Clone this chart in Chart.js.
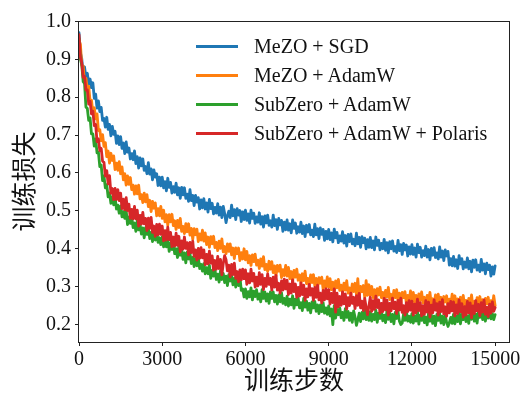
<!DOCTYPE html>
<html>
<head>
<meta charset="utf-8">
<script src="https://cdn.jsdelivr.net/npm/chart.js@4.4.0/dist/chart.umd.min.js"></script>
<style>
  html, body { margin: 0; padding: 0; background: #fff; }
  #wrap { position: relative; width: 525px; height: 393px; }
  #legend { position: absolute; left: 196px; top: 32px; font-family: "Liberation Serif", "Times New Roman", serif; font-size: 20px; color: #111; }
  .item { position: relative; height: 29px; line-height: 29px; padding-left: 58px; white-space: nowrap; }
  .swatch { position: absolute; left: 0; top: 13px; width: 42px; height: 2.5px; }
</style>
</head>
<body>
<div id="wrap">
  <canvas id="c" width="525" height="393"></canvas>
  <div id="legend"></div>
</div>
<script>
// ---- data ----
const seriesNames = ["MeZO + SGD", "MeZO + AdamW", "SubZero + AdamW", "SubZero + AdamW + Polaris"];
const seriesColors = ["#1f77b4", "#ff7f0e", "#2ca02c", "#d62728"];
const steps = Array.from({length: 301}, (_, i) => i * 50);

const mezoSgd = [
  0.970, 0.918, 0.901, 0.858, 0.880, 0.851, 0.863, 0.835, 0.848, 0.825,
  0.838, 0.797, 0.808, 0.771, 0.790, 0.762, 0.773, 0.739, 0.744, 0.721,
  0.747, 0.715, 0.728, 0.698, 0.723, 0.702, 0.710, 0.678, 0.698, 0.675,
  0.696, 0.665, 0.679, 0.651, 0.682, 0.655, 0.666, 0.637, 0.651, 0.635,
  0.658, 0.625, 0.643, 0.613, 0.640, 0.619, 0.637, 0.607, 0.617, 0.598,
  0.627, 0.597, 0.611, 0.582, 0.608, 0.589, 0.598, 0.567, 0.589, 0.566,
  0.589, 0.561, 0.577, 0.553, 0.586, 0.562, 0.575, 0.547, 0.564, 0.549,
  0.573, 0.542, 0.561, 0.533, 0.562, 0.542, 0.561, 0.533, 0.544, 0.525,
  0.556, 0.527, 0.541, 0.514, 0.541, 0.523, 0.535, 0.505, 0.529, 0.508,
  0.532, 0.505, 0.521, 0.497, 0.530, 0.506, 0.520, 0.492, 0.509, 0.494,
  0.519, 0.489, 0.510, 0.482, 0.512, 0.493, 0.469, 0.487, 0.499, 0.482,
  0.515, 0.487, 0.503, 0.477, 0.506, 0.489, 0.501, 0.472, 0.497, 0.477,
  0.502, 0.475, 0.492, 0.468, 0.502, 0.480, 0.494, 0.467, 0.484, 0.470,
  0.495, 0.465, 0.485, 0.457, 0.487, 0.468, 0.489, 0.462, 0.474, 0.457,
  0.489, 0.461, 0.477, 0.451, 0.480, 0.463, 0.475, 0.446, 0.470, 0.450,
  0.476, 0.449, 0.466, 0.442, 0.476, 0.454, 0.468, 0.441, 0.458, 0.444,
  0.470, 0.440, 0.460, 0.432, 0.462, 0.444, 0.464, 0.437, 0.449, 0.432,
  0.465, 0.437, 0.453, 0.427, 0.455, 0.438, 0.451, 0.422, 0.446, 0.426,
  0.451, 0.424, 0.442, 0.418, 0.452, 0.429, 0.443, 0.416, 0.434, 0.420,
  0.445, 0.415, 0.435, 0.407, 0.438, 0.419, 0.439, 0.413, 0.425, 0.408,
  0.441, 0.413, 0.430, 0.404, 0.432, 0.416, 0.428, 0.400, 0.424, 0.404,
  0.430, 0.403, 0.421, 0.397, 0.431, 0.409, 0.423, 0.397, 0.414, 0.400,
  0.425, 0.396, 0.416, 0.389, 0.419, 0.400, 0.421, 0.394, 0.406, 0.390,
  0.422, 0.395, 0.411, 0.385, 0.414, 0.397, 0.410, 0.381, 0.405, 0.386,
  0.411, 0.385, 0.402, 0.378, 0.412, 0.390, 0.404, 0.378, 0.395, 0.382,
  0.407, 0.378, 0.398, 0.371, 0.401, 0.383, 0.403, 0.377, 0.389, 0.373,
  0.405, 0.378, 0.394, 0.369, 0.397, 0.381, 0.393, 0.357, 0.374, 0.355,
  0.380, 0.354, 0.371, 0.348, 0.382, 0.360, 0.374, 0.347, 0.365, 0.351,
  0.376, 0.347, 0.367, 0.339, 0.370, 0.351, 0.371, 0.344, 0.357, 0.340,
  0.372, 0.344, 0.360, 0.334, 0.362, 0.345, 0.357, 0.328, 0.352, 0.333,
  0.355
];
const mezoAdamW = [
  0.950, 0.940, 0.884, 0.882, 0.837, 0.850, 0.820, 0.829, 0.789, 0.792,
  0.759, 0.772, 0.743, 0.756, 0.712, 0.714, 0.685, 0.701, 0.670, 0.680,
  0.643, 0.658, 0.626, 0.652, 0.633, 0.645, 0.609, 0.626, 0.607, 0.630,
  0.598, 0.616, 0.582, 0.598, 0.568, 0.592, 0.570, 0.588, 0.556, 0.568,
  0.544, 0.566, 0.545, 0.568, 0.532, 0.543, 0.522, 0.547, 0.524, 0.543,
  0.511, 0.528, 0.498, 0.525, 0.507, 0.521, 0.487, 0.506, 0.487, 0.512,
  0.480, 0.502, 0.471, 0.490, 0.462, 0.490, 0.471, 0.491, 0.461, 0.474,
  0.451, 0.475, 0.456, 0.480, 0.446, 0.459, 0.440, 0.466, 0.445, 0.466,
  0.436, 0.454, 0.425, 0.453, 0.437, 0.452, 0.419, 0.439, 0.423, 0.449,
  0.420, 0.442, 0.411, 0.431, 0.404, 0.432, 0.413, 0.433, 0.403, 0.417,
  0.395, 0.420, 0.401, 0.426, 0.392, 0.406, 0.387, 0.413, 0.393, 0.413,
  0.384, 0.402, 0.374, 0.402, 0.387, 0.402, 0.369, 0.390, 0.373, 0.400,
  0.371, 0.393, 0.363, 0.382, 0.356, 0.384, 0.366, 0.386, 0.357, 0.370,
  0.348, 0.373, 0.354, 0.379, 0.345, 0.359, 0.340, 0.367, 0.346, 0.366,
  0.337, 0.355, 0.327, 0.356, 0.341, 0.357, 0.324, 0.345, 0.329, 0.356,
  0.328, 0.351, 0.321, 0.340, 0.314, 0.343, 0.325, 0.346, 0.317, 0.331,
  0.309, 0.334, 0.316, 0.341, 0.308, 0.322, 0.303, 0.331, 0.311, 0.332,
  0.303, 0.322, 0.295, 0.324, 0.309, 0.325, 0.293, 0.315, 0.299, 0.326,
  0.298, 0.321, 0.292, 0.312, 0.286, 0.315, 0.297, 0.319, 0.290, 0.304,
  0.283, 0.309, 0.291, 0.316, 0.283, 0.297, 0.279, 0.307, 0.287, 0.309,
  0.280, 0.321, 0.272, 0.301, 0.287, 0.303, 0.271, 0.316, 0.277, 0.305,
  0.277, 0.301, 0.271, 0.292, 0.266, 0.295, 0.278, 0.299, 0.271, 0.285,
  0.265, 0.290, 0.273, 0.298, 0.266, 0.280, 0.263, 0.290, 0.271, 0.292,
  0.264, 0.283, 0.256, 0.285, 0.271, 0.287, 0.256, 0.277, 0.262, 0.289,
  0.262, 0.285, 0.256, 0.277, 0.252, 0.281, 0.264, 0.286, 0.257, 0.272,
  0.252, 0.277, 0.260, 0.285, 0.253, 0.268, 0.250, 0.278, 0.259, 0.280,
  0.252, 0.272, 0.244, 0.274, 0.260, 0.276, 0.245, 0.267, 0.252, 0.280,
  0.252, 0.276, 0.247, 0.268, 0.242, 0.272, 0.255, 0.277, 0.249, 0.264,
  0.243, 0.269, 0.252, 0.278, 0.246, 0.261, 0.244, 0.271, 0.252, 0.274,
  0.246, 0.266, 0.239, 0.269, 0.255, 0.272, 0.241, 0.263, 0.248, 0.276,
  0.250
];
const subzeroAdamW = [
  0.955, 0.901, 0.885, 0.841, 0.836, 0.774, 0.770, 0.739, 0.745, 0.703,
  0.703, 0.671, 0.690, 0.653, 0.655, 0.617, 0.621, 0.580, 0.592, 0.561,
  0.569, 0.537, 0.547, 0.520, 0.537, 0.516, 0.536, 0.505, 0.515, 0.494,
  0.513, 0.484, 0.498, 0.480, 0.501, 0.464, 0.484, 0.467, 0.484, 0.456,
  0.468, 0.446, 0.475, 0.450, 0.465, 0.439, 0.455, 0.429, 0.456, 0.438,
  0.454, 0.427, 0.443, 0.419, 0.441, 0.423, 0.446, 0.417, 0.429, 0.411,
  0.432, 0.405, 0.421, 0.405, 0.427, 0.393, 0.415, 0.398, 0.415, 0.387,
  0.400, 0.377, 0.407, 0.383, 0.398, 0.372, 0.389, 0.363, 0.391, 0.373,
  0.388, 0.361, 0.377, 0.353, 0.375, 0.355, 0.378, 0.348, 0.359, 0.341,
  0.361, 0.334, 0.350, 0.334, 0.356, 0.322, 0.343, 0.328, 0.346, 0.319,
  0.333, 0.312, 0.342, 0.319, 0.335, 0.311, 0.328, 0.303, 0.332, 0.315,
  0.331, 0.305, 0.322, 0.299, 0.321, 0.303, 0.327, 0.290, 0.294, 0.273,
  0.294, 0.269, 0.287, 0.273, 0.297, 0.265, 0.288, 0.274, 0.292, 0.267,
  0.281, 0.260, 0.292, 0.269, 0.286, 0.262, 0.281, 0.256, 0.286, 0.269,
  0.286, 0.260, 0.277, 0.254, 0.278, 0.260, 0.284, 0.256, 0.269, 0.252,
  0.275, 0.249, 0.267, 0.252, 0.276, 0.243, 0.267, 0.252, 0.270, 0.244,
  0.258, 0.237, 0.269, 0.246, 0.262, 0.238, 0.256, 0.231, 0.260, 0.244,
  0.261, 0.235, 0.252, 0.229, 0.252, 0.234, 0.258, 0.230, 0.244, 0.227,
  0.249, 0.223, 0.241, 0.200, 0.250, 0.217, 0.240, 0.226, 0.244, 0.218,
  0.232, 0.211, 0.242, 0.219, 0.235, 0.211, 0.230, 0.206, 0.236, 0.220,
  0.198, 0.212, 0.230, 0.208, 0.232, 0.215, 0.240, 0.213, 0.227, 0.211,
  0.234, 0.209, 0.227, 0.213, 0.238, 0.206, 0.230, 0.216, 0.235, 0.210,
  0.225, 0.205, 0.236, 0.214, 0.231, 0.208, 0.227, 0.202, 0.232, 0.216,
  0.234, 0.209, 0.200, 0.204, 0.228, 0.211, 0.236, 0.209, 0.222, 0.206,
  0.229, 0.204, 0.223, 0.209, 0.234, 0.201, 0.225, 0.211, 0.230, 0.205,
  0.220, 0.199, 0.231, 0.209, 0.226, 0.203, 0.222, 0.197, 0.227, 0.211,
  0.229, 0.204, 0.222, 0.200, 0.224, 0.207, 0.195, 0.205, 0.219, 0.203,
  0.227, 0.202, 0.222, 0.208, 0.234, 0.202, 0.227, 0.213, 0.232, 0.208,
  0.223, 0.203, 0.236, 0.214, 0.231, 0.209, 0.228, 0.204, 0.235, 0.219,
  0.237, 0.213, 0.231, 0.209, 0.233, 0.217, 0.242, 0.215, 0.229, 0.213,
  0.226
];
const subzeroPolaris = [
  0.965, 0.906, 0.891, 0.852, 0.855, 0.819, 0.819, 0.782, 0.789, 0.756,
  0.763, 0.725, 0.728, 0.683, 0.690, 0.659, 0.665, 0.631, 0.628, 0.592,
  0.606, 0.571, 0.593, 0.547, 0.559, 0.530, 0.559, 0.530, 0.556, 0.527,
  0.547, 0.506, 0.531, 0.503, 0.535, 0.501, 0.518, 0.480, 0.504, 0.479,
  0.512, 0.479, 0.502, 0.460, 0.488, 0.465, 0.496, 0.466, 0.480, 0.448,
  0.481, 0.454, 0.483, 0.443, 0.460, 0.433, 0.464, 0.437, 0.465, 0.438,
  0.460, 0.421, 0.448, 0.423, 0.457, 0.424, 0.443, 0.406, 0.431, 0.407,
  0.441, 0.409, 0.433, 0.392, 0.421, 0.399, 0.431, 0.401, 0.416, 0.384,
  0.417, 0.390, 0.420, 0.380, 0.397, 0.370, 0.401, 0.375, 0.403, 0.376,
  0.397, 0.358, 0.385, 0.360, 0.394, 0.362, 0.381, 0.344, 0.369, 0.346,
  0.380, 0.348, 0.372, 0.331, 0.361, 0.382, 0.371, 0.342, 0.357, 0.326,
  0.359, 0.332, 0.362, 0.322, 0.340, 0.313, 0.344, 0.318, 0.346, 0.321,
  0.344, 0.306, 0.334, 0.310, 0.346, 0.315, 0.335, 0.299, 0.325, 0.302,
  0.337, 0.306, 0.332, 0.292, 0.322, 0.301, 0.334, 0.306, 0.322, 0.291,
  0.325, 0.299, 0.330, 0.291, 0.309, 0.283, 0.315, 0.291, 0.320, 0.294,
  0.317, 0.279, 0.307, 0.283, 0.318, 0.287, 0.307, 0.272, 0.298, 0.275,
  0.310, 0.279, 0.304, 0.264, 0.294, 0.273, 0.306, 0.278, 0.295, 0.264,
  0.298, 0.272, 0.304, 0.265, 0.283, 0.257, 0.290, 0.265, 0.294, 0.268,
  0.292, 0.254, 0.282, 0.258, 0.294, 0.233, 0.283, 0.247, 0.274, 0.251,
  0.286, 0.255, 0.281, 0.241, 0.271, 0.250, 0.283, 0.256, 0.272, 0.242,
  0.276, 0.251, 0.282, 0.244, 0.262, 0.237, 0.269, 0.245, 0.226, 0.249,
  0.272, 0.235, 0.263, 0.240, 0.275, 0.245, 0.265, 0.230, 0.256, 0.234,
  0.269, 0.239, 0.265, 0.225, 0.256, 0.236, 0.270, 0.242, 0.259, 0.229,
  0.264, 0.238, 0.270, 0.232, 0.250, 0.225, 0.258, 0.234, 0.263, 0.238,
  0.262, 0.225, 0.254, 0.231, 0.267, 0.237, 0.258, 0.223, 0.250, 0.227,
  0.263, 0.233, 0.259, 0.220, 0.251, 0.231, 0.265, 0.238, 0.255, 0.225,
  0.259, 0.234, 0.266, 0.228, 0.247, 0.222, 0.255, 0.231, 0.261, 0.236,
  0.260, 0.223, 0.252, 0.229, 0.265, 0.234, 0.255, 0.220, 0.247, 0.225,
  0.261, 0.231, 0.257, 0.218, 0.249, 0.229, 0.263, 0.236, 0.253, 0.223,
  0.258, 0.233, 0.265, 0.227, 0.246, 0.221, 0.254, 0.230, 0.260, 0.235,
  0.245
];

const xTicks = [0, 3000, 6000, 9000, 12000, 15000];
const xTickLabels = ["0", "3000", "6000", "9000", "12000", "15000"];
const yTicks = [0.2, 0.3, 0.4, 0.5, 0.6, 0.7, 0.8, 0.9, 1.0];
const yTickLabels = ["0.2", "0.3", "0.4", "0.5", "0.6", "0.7", "0.8", "0.9", "1.0"];
const xTitle = "训练步数";
const yTitle = "训练损失";

// ---- chart ----
const allSeries = [mezoSgd, mezoAdamW, subzeroAdamW, subzeroPolaris];
const datasets = allSeries.map((vals, k) => ({
  label: seriesNames[k],
  data: steps.map((s, i) => ({x: s, y: vals[i]})),
  borderColor: seriesColors[k],
  backgroundColor: seriesColors[k],
  borderWidth: 2.8,
  borderJoinStyle: 'round',
  borderCapStyle: 'round',
  pointRadius: 0,
  tension: 0,
  fill: false,
  order: 4 - k
}));

const tickFont = {family: "'Liberation Serif', 'Times New Roman', serif", size: 20};
const titleFont = {family: "'Noto Sans CJK SC', sans-serif", size: 25, lineHeight: 1.0};

const framePlugin = {
  id: 'frame',
  afterDatasetsDraw(chart) {
    const {ctx, chartArea: a} = chart;
    ctx.save();
    ctx.strokeStyle = '#222';
    ctx.lineWidth = 1;
    ctx.strokeRect(Math.round(a.left) - 0.5, Math.round(a.top) + 0.5, Math.round(a.right - a.left) + 1, Math.round(a.bottom - a.top));
    ctx.restore();
  }
};

new Chart(document.getElementById('c'), {
  type: 'line',
  data: {datasets},
  plugins: [framePlugin],
  options: {
    responsive: false,
    animation: false,
    events: [],
    layout: {padding: {left: 0, top: 21, right: 16, bottom: 0}},
    plugins: {legend: {display: false}, tooltip: {enabled: false}},
    scales: {
      x: {
        type: 'linear',
        min: 0,
        max: 15500,
        afterBuildTicks: (s) => { s.ticks = xTicks.map(v => ({value: v})); },
        afterFit: (s) => { s.height = 51; },
        ticks: {
          font: tickFont, color: '#111', padding: 2, maxRotation: 0, autoSkip: false,
          callback: (v, i) => xTickLabels[i]
        },
        grid: {drawOnChartArea: false, drawTicks: true, tickLength: 4, color: '#222'},
        border: {display: false},
        title: {display: true, text: xTitle, font: titleFont, color: '#111', padding: {top: 0, bottom: 1}}
      },
      y: {
        type: 'linear',
        min: 0.154,
        max: 1.001,
        afterBuildTicks: (s) => { s.ticks = yTicks.map(v => ({value: v})); },
        afterFit: (s) => { s.width = 79; },
        ticks: {
          font: tickFont, color: '#111', padding: 4, autoSkip: false,
          callback: (v, i) => yTickLabels[i]
        },
        grid: {drawOnChartArea: false, drawTicks: true, tickLength: 4, color: '#222'},
        border: {display: false},
        title: {display: true, text: yTitle, font: titleFont, color: '#111', padding: {top: 11, bottom: 0}}
      }
    }
  }
});

// ---- legend (HTML text) ----
const leg = document.getElementById('legend');
seriesNames.forEach((name, k) => {
  const row = document.createElement('div');
  row.className = 'item';
  const sw = document.createElement('span');
  sw.className = 'swatch';
  sw.style.background = seriesColors[k];
  row.appendChild(sw);
  row.appendChild(document.createTextNode(name));
  leg.appendChild(row);
});
</script>
</body>
</html>
